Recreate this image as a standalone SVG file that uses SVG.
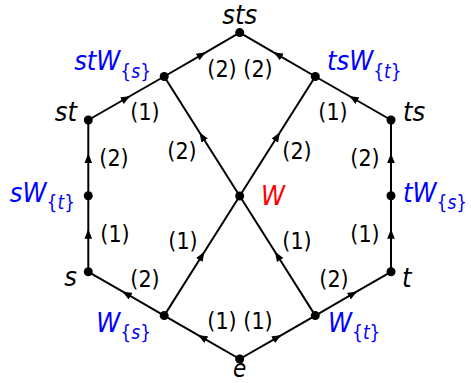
<svg xmlns="http://www.w3.org/2000/svg" width="471" height="383" viewBox="0 0 471 383">
<style>
.e{fill:none;stroke:#000;stroke-width:2;marker-mid:url(#ah)}
.n{fill:#000}
.lb{font-family:"DejaVu Sans Condensed","DejaVu Sans",sans-serif;font-style:italic;font-size:27px;fill:#000}
.bl{fill:#0000ff}
.rd{fill:#ff0000}
.sb{font-size:19px}
.up{font-style:normal}
.num{font-family:"DejaVu Sans Condensed","DejaVu Sans",sans-serif;font-size:23px;fill:#000;text-anchor:middle}
</style>
<defs>
<marker id="ah" markerUnits="userSpaceOnUse" markerWidth="12" markerHeight="10" viewBox="0 -5 12 10" refX="5" refY="0" orient="auto">
<path d="M10,0 C7,-1 3,-2.6 0,-3.8 L0,3.8 C3,2.6 7,1 10,0 Z" fill="#000"/>
</marker>
</defs>
<g id="connectors">
<path class="e" d="M239.7,359 L201.95,337.3 L164.2,315.6"/>
<path class="e" d="M239.7,359 L277.5,337.3 L315.3,315.6"/>
<path class="e" d="M164.2,315.6 L126.25,293.7 L88.3,271.8"/>
<path class="e" d="M315.3,315.6 L353.15,293.7 L391,271.8"/>
<path class="e" d="M88.3,271.8 L88.3,233.8 L88.3,195.8"/>
<path class="e" d="M391,271.8 L391,233.8 L391,195.8"/>
<path class="e" d="M88.3,195.8 L88.3,157.9 L88.3,120"/>
<path class="e" d="M391,195.8 L391,157.9 L391,120"/>
<path class="e" d="M88.3,120 L126.25,98.25 L164.2,76.5"/>
<path class="e" d="M391,120 L353.15,98.25 L315.3,76.5"/>
<path class="e" d="M164.2,76.5 L201.95,54.55 L239.7,32.6"/>
<path class="e" d="M315.3,76.5 L277.5,54.55 L239.7,32.6"/>
<path class="e" d="M164.2,315.6 L201.95,255.8 L239.7,196"/>
<path class="e" d="M315.3,315.6 L277.5,255.8 L239.7,196"/>
<path class="e" d="M239.7,196 L201.95,136.25 L164.2,76.5"/>
<path class="e" d="M239.7,196 L277.5,136.25 L315.3,76.5"/>
<text class="num" x="222" y="329">(1)</text>
<text class="num" x="258" y="329">(1)</text>
<text class="num" x="145" y="287">(2)</text>
<text class="num" x="334" y="287">(2)</text>
<text class="num" x="115" y="242">(1)</text>
<text class="num" x="365" y="242">(1)</text>
<text class="num" x="183" y="249">(1)</text>
<text class="num" x="297" y="249">(1)</text>
<text class="num" x="114" y="166">(2)</text>
<text class="num" x="365" y="166">(2)</text>
<text class="num" x="182" y="159">(2)</text>
<text class="num" x="297" y="159">(2)</text>
<text class="num" x="145" y="120">(1)</text>
<text class="num" x="333" y="120">(1)</text>
<text class="num" x="222" y="77">(2)</text>
<text class="num" x="258" y="77">(2)</text>
</g>
<g id="e"><circle class="n" cx="239.7" cy="359" r="4.5"/><text class="lb" x="239.7" y="377" text-anchor="middle" style="font-size:24px">e</text></g>
<g id="Ws"><circle class="n" cx="164.2" cy="315.6" r="4.5"/><text class="lb bl" x="151" y="332" text-anchor="end">W<tspan class="sb up" dy="7">{</tspan><tspan class="sb">s</tspan><tspan class="sb up">}</tspan></text></g>
<g id="Wt"><circle class="n" cx="315.3" cy="315.6" r="4.5"/><text class="lb bl" x="328" y="332">W<tspan class="sb up" dy="7">{</tspan><tspan class="sb">t</tspan><tspan class="sb up">}</tspan></text></g>
<g id="s"><circle class="n" cx="88.3" cy="271.8" r="4.5"/><text class="lb" x="77" y="286" text-anchor="end">s</text></g>
<g id="t"><circle class="n" cx="391" cy="271.8" r="4.5"/><text class="lb" x="402" y="287">t</text></g>
<g id="sWt"><circle class="n" cx="88.3" cy="195.8" r="4.5"/><text class="lb bl" x="75" y="202" text-anchor="end">sW<tspan class="sb up" dy="7">{</tspan><tspan class="sb">t</tspan><tspan class="sb up">}</tspan></text></g>
<g id="tWs"><circle class="n" cx="391" cy="195.8" r="4.5"/><text class="lb bl" x="403" y="202">tW<tspan class="sb up" dy="7">{</tspan><tspan class="sb">s</tspan><tspan class="sb up">}</tspan></text></g>
<g id="W"><circle class="n" cx="239.7" cy="196" r="4.5"/><text class="lb rd" x="261" y="205">W</text></g>
<g id="st"><circle class="n" cx="88.3" cy="120" r="4.5"/><text class="lb" x="77" y="121" text-anchor="end">st</text></g>
<g id="ts"><circle class="n" cx="391" cy="120" r="4.5"/><text class="lb" x="403" y="121">ts</text></g>
<g id="stWs"><circle class="n" cx="164.2" cy="76.5" r="4.5"/><text class="lb bl" x="151" y="70" text-anchor="end">stW<tspan class="sb up" dy="8">{</tspan><tspan class="sb">s</tspan><tspan class="sb up">}</tspan></text></g>
<g id="tsWt"><circle class="n" cx="315.3" cy="76.5" r="4.5"/><text class="lb bl" x="327" y="70">tsW<tspan class="sb up" dy="8">{</tspan><tspan class="sb">t</tspan><tspan class="sb up">}</tspan></text></g>
<g id="sts"><circle class="n" cx="239.7" cy="32.6" r="4.5"/><text class="lb" x="239.7" y="24" text-anchor="middle">sts</text></g>
</svg>
